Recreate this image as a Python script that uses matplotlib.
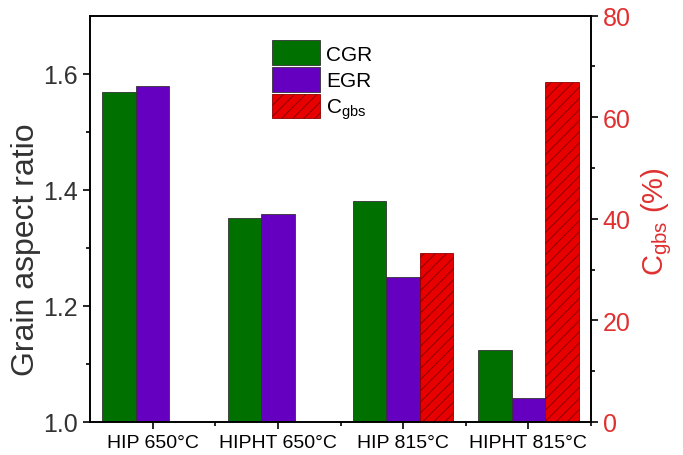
import matplotlib.pyplot as plt
import numpy as np

plt.rcParams['font.family'] = ['Liberation Sans', 'DejaVu Sans']
plt.rcParams['hatch.linewidth'] = 0.7

groups = ["HIP 650°C", "HIPHT 650°C", "HIP 815°C", "HIPHT 815°C"]
cgr = [1.568, 1.351, 1.381, 1.124]
egr = [1.579, 1.359, 1.250, 1.041]
cgbs_groups = [2, 3]
cgbs = [33.3, 66.9]

green = "#007000"
purple = "#6600C0"
red = "#E80000"

x = np.arange(len(groups))
w = 0.268

fig = plt.figure(figsize=(6.83, 4.56), dpi=100)
ax = fig.add_axes([0.1318, 0.0724, 0.7335, 0.8912])
ax2 = ax.twinx()

b1 = ax.bar(x - w, np.array(cgr) - 1.0, w, bottom=1.0, color=green,
            edgecolor="#333333", linewidth=0.6, label="CGR")
b2 = ax.bar(x, np.array(egr) - 1.0, w, bottom=1.0, color=purple,
            edgecolor="#333333", linewidth=0.6, label="EGR")
b3 = ax2.bar(np.array(cgbs_groups) + w, cgbs, w, color=red,
             edgecolor="#8c0000", linewidth=0.6, hatch="///", label="C$_{\\mathregular{gbs}}$")

ax.set_xlim(-0.5, 3.5)
ax.set_ylim(1.0, 1.7)
ax2.set_ylim(0, 80)

ax.set_xticks(x)
ax.set_xticklabels(groups, fontsize=14)
ax.set_xticks([0.5, 1.5, 2.5, 3.5], minor=True)
ax.set_yticks([1.0, 1.2, 1.4, 1.6])
ax.set_yticks([1.1, 1.3, 1.5], minor=True)
ax.set_yticklabels(["1.0", "1.2", "1.4", "1.6"], fontsize=18, color="#333333")
ax2.set_yticks([0, 20, 40, 60, 80])
ax2.set_yticks([10, 30, 50, 70], minor=True)
ax2.set_yticklabels(["0", "20", "40", "60", "80"], fontsize=18, color="#e03030")

for a in (ax, ax2):
    a.tick_params(which="major", direction="out", length=5, width=1.2)
    a.tick_params(which="minor", direction="out", length=3, width=1.2)
    for s in a.spines.values():
        s.set_linewidth(1.2)
ax.tick_params(axis="x", which="both", top=False)

ax.set_ylabel("Grain aspect ratio", fontsize=23, color="#333333")
ax.yaxis.set_label_coords(-0.098, 0.426)
ax2.set_ylabel("C$_{\\mathregular{gbs}}$ (%)", fontsize=21, color="#e03030")
ax2.yaxis.set_label_coords(1.096, 0.495)

handles = [b1, b2, b3]
ax2.legend(handles, ["CGR", "EGR", "C$_{\\mathregular{gbs}}$"], loc="upper left",
           bbox_to_anchor=(0.398, 0.909), bbox_transform=fig.transFigure,
           frameon=False, fontsize=15, handlelength=2.29, handleheight=1.43,
           labelspacing=0.1, handletextpad=0.3, borderpad=0, borderaxespad=0)

fig.savefig("out.png", dpi=100)
